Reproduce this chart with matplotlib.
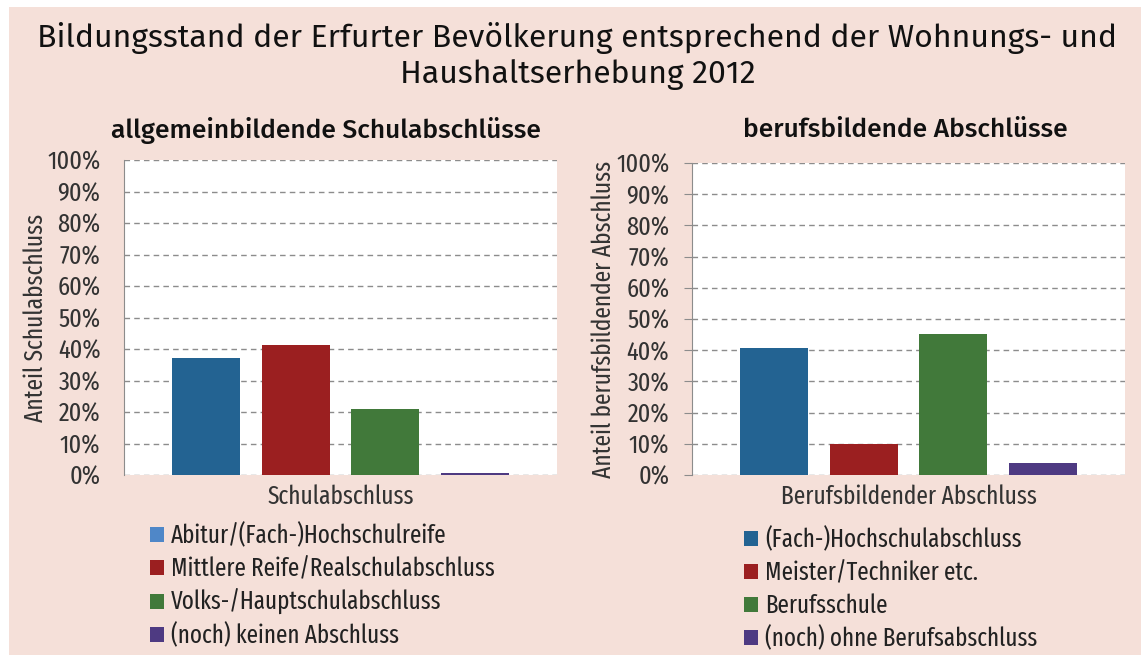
import matplotlib
matplotlib.use("Agg")
import matplotlib.pyplot as plt
from matplotlib.patches import Patch
from matplotlib.ticker import PercentFormatter

# data (percent)
school_labels = ["Abitur/(Fach-)Hochschulreife", "Mittlere Reife/Realschulabschluss",
                 "Volks-/Hauptschulabschluss", "(noch) keinen Abschluss"]
school_values = [37.0, 41.2, 20.9, 0.5]

job_labels = ["(Fach-)Hochschulabschluss", "Meister/Techniker etc.",
              "Berufsschule", "(noch) ohne Berufsabschluss"]
job_values = [40.8, 9.9, 45.3, 3.7]

bar_colors = ["#236392", "#9b1f20", "#41793a", "#4e3a82"]
school_legend_colors = ["#4f87c8", "#9b1f20", "#41793a", "#4e3a82"]

bg = "#f5e0d9"
cond = "Fira Sans Extra Condensed"

fig = plt.figure(figsize=(11.41, 6.55), dpi=100)
fig.patch.set_facecolor("white")
# pink panel, leaves a thin white strip top and left
fig.add_artist(plt.Rectangle((9 / 1141, 0), 1, 1 - 7 / 655, transform=fig.transFigure,
                             facecolor=bg, edgecolor="none", zorder=0))

fig.text(0.506, 1 - 56 / 655, "Bildungsstand der Erfurter Bevölkerung entsprechend der Wohnungs- und\nHaushaltserhebung 2012",
         ha="center", va="center", family="Fira Sans", fontsize=23, fontweight="normal",
         linespacing=1.2, color="#111111")


def draw(rect, values, colors, legend_colors, labels, subtitle, sub_x, xlabel, ylabel, ylabel_x,
         legend_x, legend_y, ticks_out):
    ax = fig.add_axes(rect)
    ax.set_facecolor("white")
    x = range(len(values))
    ax.bar(x, values, width=0.757, color=colors, zorder=3)
    ax.set_xlim(-0.92, 3.92)
    ax.set_ylim(0, 100)
    ax.set_yticks(range(0, 101, 10))
    ax.yaxis.set_major_formatter(PercentFormatter(decimals=0))
    ax.set_xticks([])
    ax.grid(axis="y", linestyle=(0, (4, 3)), color="#8c8c8c", linewidth=1, zorder=1)
    for s in ["top", "right", "bottom"]:
        ax.spines[s].set_visible(False)
    ax.spines["left"].set_color("#8c8c8c")
    if ticks_out:
        ax.tick_params(axis="y", length=5.8, color="#8c8c8c", pad=10.5)
    else:
        ax.tick_params(axis="y", length=0, pad=17)
    ax.tick_params(axis="y", labelsize=19, labelcolor="#333333")
    for t in ax.get_yticklabels():
        t.set_family(cond)
    fig.text(sub_x, 1 - 130 / 655, subtitle, ha="center", va="center",
             family="Fira Sans", fontsize=19, fontweight="medium", color="#111111")
    fig.text(rect[0] + rect[2] / 2, 1 - 497 / 655, xlabel, ha="center", va="center",
             family=cond, fontsize=18.3, color="#333333")
    fig.text(ylabel_x, rect[1] + rect[3] / 2, ylabel, ha="center", va="center", rotation=90,
             family=cond, fontsize=18.3, color="#333333")
    handles = [Patch(facecolor=c, edgecolor="none") for c in legend_colors]
    ax.legend(handles, labels, loc="upper left", bbox_to_anchor=(legend_x, legend_y),
              bbox_transform=fig.transFigure, frameon=False, borderpad=0, borderaxespad=0,
              handlelength=0.55, handleheight=0.55, handletextpad=0.3, labelspacing=0.31,
              prop={"family": cond, "size": 18}, labelcolor="#222222")
    return ax


draw([124 / 1141, 180 / 655, 433 / 1141, 315 / 655], school_values, bar_colors, school_legend_colors,
     school_labels, "allgemeinbildende Schulabschlüsse", 326 / 1141, "Schulabschluss",
     "Anteil Schulabschluss", 36 / 1141, 150 / 1141, 1 - 523 / 655, False)
draw([692 / 1141, 180 / 655, 433 / 1141, 312 / 655], job_values, bar_colors, bar_colors,
     job_labels, "berufsbildende Abschlüsse", 905 / 1141, "Berufsbildender Abschluss",
     "Anteil berufsbildender Abschluss", 604 / 1141, 744 / 1141, 1 - 527 / 655, True)

fig.savefig("out.png", dpi=100, facecolor=fig.get_facecolor())
